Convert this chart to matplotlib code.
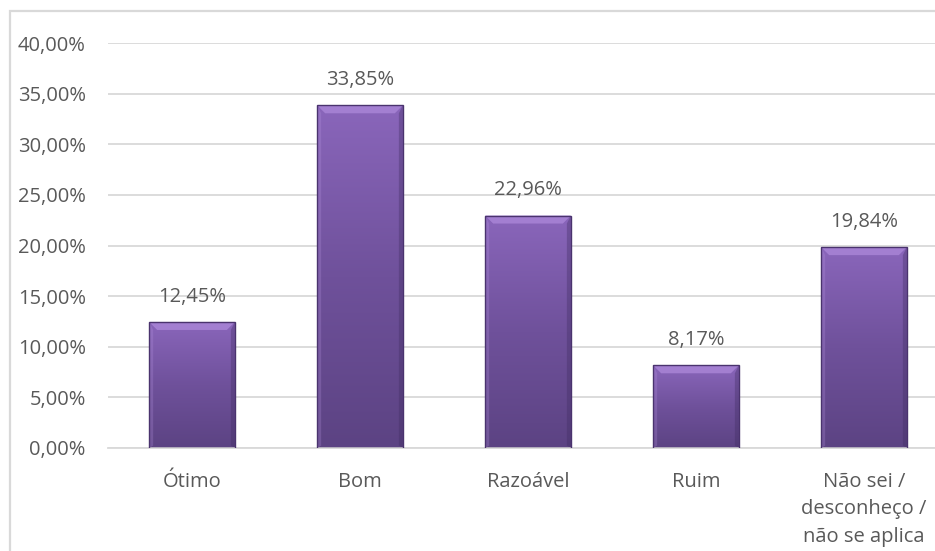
import numpy as np
import matplotlib.pyplot as plt
from matplotlib.colors import LinearSegmentedColormap
from matplotlib.patches import Polygon, Rectangle

categories = ["Ótimo", "Bom", "Razoável", "Ruim", "Não sei /\ndesconheço /\nnão se aplica"]
values = [12.45, 33.85, 22.96, 8.17, 19.84]
labels = ["12,45%", "33,85%", "22,96%", "8,17%", "19,84%"]
yticks = [0, 5, 10, 15, 20, 25, 30, 35, 40]

plt.rcParams['font.family'] = ['Open Sans', 'DejaVu Sans']
txt = '#595959'

fig = plt.figure(figsize=(9.35, 5.51), dpi=100)
ax = fig.add_axes([108 / 935, 103 / 551, 840 / 935, 405 / 551])

# outer chart frame (left and top visible)
fig.patches.append(Rectangle((10 / 935, -0.1), 1.2, (540 / 551) + 0.1, transform=fig.transFigure,
                             fill=False, edgecolor='#d9d9d9', linewidth=1.6, zorder=0))

ax.set_xlim(-0.5, 4.5)
ax.set_ylim(0, 40)
ax.set_yticks(yticks)
ax.set_yticklabels(["%d,00%%" % v for v in yticks])
ax.set_xticks(range(len(categories)))
ax.set_xticklabels(categories, linespacing=1.5)
ax.tick_params(axis='both', length=0, labelsize=14.5, labelcolor=txt)
ax.tick_params(axis='y', pad=16)
ax.tick_params(axis='x', pad=17)
ax.yaxis.grid(True, color='#d9d9d9', linewidth=1.3)
ax.set_axisbelow(True)
for s in ['top', 'right', 'left']:
    ax.spines[s].set_visible(False)
ax.spines['bottom'].set_color('#d9d9d9')
ax.spines['bottom'].set_linewidth(1.3)

cmap = LinearSegmentedColormap.from_list('purp', ['#5c4383', '#6f519b', '#8a66bb'])
grad = np.linspace(0, 1, 256).reshape(-1, 1)
w = 0.51
bx = 8 / 168.0          # bevel width in data x
by = 8 / 10.125         # bevel height in data y
bars = ax.bar(range(len(values)), values, width=w, color='none', edgecolor='#4a336e', linewidth=1.0, zorder=3)
for i, (b, v) in enumerate(zip(bars, values)):
    x0 = i - w / 2
    x1 = i + w / 2
    im = ax.imshow(grad, cmap=cmap, origin='lower', aspect='auto',
                   extent=(x0, x1, 0, v), zorder=2)
    im.set_clip_path(b)
    # top bevel highlight
    ax.add_patch(Polygon([(x0, v), (x1, v), (x1 - bx, v - by), (x0 + bx, v - by)],
                         closed=True, facecolor='#a783d4', edgecolor='none', alpha=0.9, zorder=2.5))
    # side shading
    ax.add_patch(Polygon([(x1, v), (x1, 0), (x1 - bx * 0.5, by * 0.3), (x1 - bx * 0.5, v - by)],
                         closed=True, facecolor='#3f2c60', edgecolor='none', alpha=0.35, zorder=2.5))
    ax.add_patch(Polygon([(x0, v), (x0, 0), (x0 + bx * 0.5, by * 0.3), (x0 + bx * 0.5, v - by)],
                         closed=True, facecolor='#b795e0', edgecolor='none', alpha=0.25, zorder=2.5))
    ax.annotate(labels[i], (i, v), xytext=(0, 11), textcoords='offset points',
                ha='center', va='bottom', fontsize=14.5, color=txt)

fig.savefig('out.png', dpi=100)
